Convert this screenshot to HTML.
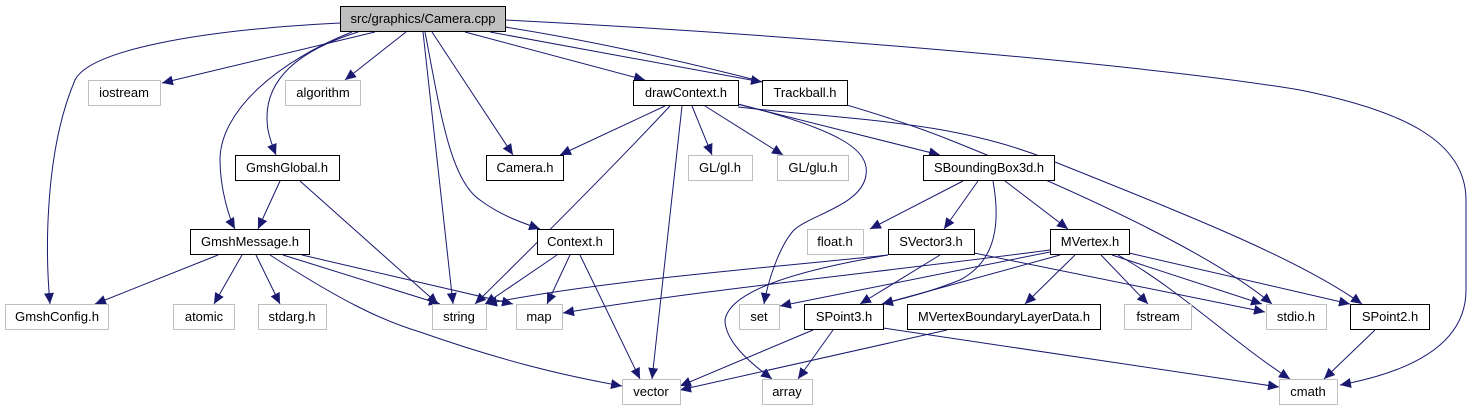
<!DOCTYPE html>
<html><head><meta charset="utf-8"><style>html,body{margin:0;padding:0;background:#fff}svg{display:block}</style></head>
<body>
<svg width="1473" height="411" viewBox="0 0 1473 411" xmlns="http://www.w3.org/2000/svg" font-family="Liberation Sans, sans-serif" font-size="13">
<defs>
<marker id="a" markerUnits="userSpaceOnUse" markerWidth="12" markerHeight="10" refX="11" refY="5" orient="auto"><path d="M0,0 L11,5 L0,10 Z" fill="#191970"/></marker>
</defs>
<g fill="none" stroke="#191970" stroke-width="1" marker-end="url(#a)">
<path d="M340,23 C200,30 90,50 75,80 C45,150 45,250 50,304"/>
<path d="M375,32 L162,83"/>
<path d="M406,32 L345,80"/>
<path d="M358,32 C300,50 260,80 268,130 C270,140 274,150 276,155"/>
<path d="M352,32 C280,60 220,110 220,160 C220,190 230,220 235,229"/>
<path d="M423,32 L453,304"/>
<path d="M432,32 L513,155"/>
<path d="M425,32 C440,110 450,180 480,200 C500,215 520,222 540,229"/>
<path d="M465,32 L645,80"/>
<path d="M490,32 L762,82"/>
<path d="M505,27 C650,50 850,100 950,140 C1100,200 1220,260 1272,304"/>
<path d="M506,20 C800,35 1150,65 1300,90 C1400,110 1466,140 1466,200 L1466,290 C1466,340 1420,370 1340,385"/>
<path d="M665,106 L560,155"/>
<path d="M670,106 C610,170 540,240 475,304"/>
<path d="M682,106 L652,379"/>
<path d="M692,106 L712,155"/>
<path d="M705,106 L783,155"/>
<path d="M737,104 L940,155"/>
<path d="M738,104 C840,130 870,150 866,175 C862,205 810,215 794,230 C780,245 768,280 764,304"/>
<path d="M738,107 C850,120 950,120 1050,160 C1200,220 1300,260 1362,304"/>
<path d="M963,181 L870,229"/>
<path d="M978,181 L944,229"/>
<path d="M1005,181 L1068,229"/>
<path d="M993,181 C1000,220 998,260 960,280 C930,292 905,298 882,304"/>
<path d="M280,181 L258,229"/>
<path d="M300,181 L438,304"/>
<path d="M218,255 L95,304"/>
<path d="M242,255 L214,304"/>
<path d="M256,255 L280,304"/>
<path d="M283,255 L440,304"/>
<path d="M302,255 L513,304"/>
<path d="M270,255 C340,300 380,320 420,332 C500,360 560,375 622,386"/>
<path d="M557,255 L485,304"/>
<path d="M570,255 L547,304"/>
<path d="M580,255 L640,379"/>
<path d="M888,255 C800,265 600,280 486,304"/>
<path d="M888,255 C800,270 730,290 725,320 C725,345 760,370 772,379"/>
<path d="M940,255 L860,304"/>
<path d="M974,253 L1265,312"/>
<path d="M1050,250 C900,270 700,290 563,313"/>
<path d="M1050,252 L780,306"/>
<path d="M1060,255 L882,304"/>
<path d="M1075,255 L1025,304"/>
<path d="M1101,255 L1148,304"/>
<path d="M1112,255 L1262,304"/>
<path d="M1118,255 C1180,290 1230,340 1290,379"/>
<path d="M1129,253 L1350,304"/>
<path d="M813,330 L680,386"/>
<path d="M833,330 L798,379"/>
<path d="M883,328 L1279,387"/>
<path d="M947,330 L680,390"/>
<path d="M1375,330 L1324,379"/>
</g>
<g stroke-width="1">
<rect x="340.5" y="6.5" width="165" height="25" fill="#bfbfbf" stroke="#000"/>
<g fill="#fff" stroke="#bfbfbf">
<rect x="88.5" y="80.5" width="72" height="25"/>
<rect x="285.5" y="80.5" width="75" height="25"/>
<rect x="688.5" y="155.5" width="64" height="25"/>
<rect x="777.5" y="155.5" width="71" height="25"/>
<rect x="807.5" y="229.5" width="56" height="25"/>
<rect x="5.5" y="304.5" width="103" height="25"/>
<rect x="173.5" y="304.5" width="61" height="25"/>
<rect x="258.5" y="304.5" width="68" height="25"/>
<rect x="432.5" y="304.5" width="54" height="25"/>
<rect x="516.5" y="304.5" width="46" height="25"/>
<rect x="739.5" y="304.5" width="40" height="25"/>
<rect x="1124.5" y="304.5" width="67" height="25"/>
<rect x="1266.5" y="304.5" width="60" height="25"/>
<rect x="622.5" y="379.5" width="58" height="25"/>
<rect x="762.5" y="379.5" width="50" height="25"/>
<rect x="1279.5" y="379.5" width="58" height="25"/>
</g>
<g fill="#fff" stroke="#000">
<rect x="633.5" y="80.5" width="105" height="25"/>
<rect x="762.5" y="80.5" width="85" height="25"/>
<rect x="235.5" y="155.5" width="104" height="25"/>
<rect x="486.5" y="155.5" width="77" height="25"/>
<rect x="923.5" y="155.5" width="131" height="25"/>
<rect x="190.5" y="229.5" width="119" height="25"/>
<rect x="537.5" y="229.5" width="76" height="25"/>
<rect x="888.5" y="229.5" width="86" height="25"/>
<rect x="1050.5" y="229.5" width="79" height="25"/>
<rect x="804.5" y="304.5" width="79" height="25"/>
<rect x="907.5" y="304.5" width="193" height="25"/>
<rect x="1350.5" y="304.5" width="79" height="25"/>
</g>
</g>
<g fill="#000" text-anchor="middle">
<text x="423" y="23" textLength="145" lengthAdjust="spacingAndGlyphs">src/graphics/Camera.cpp</text>
<text x="124" y="97">iostream</text>
<text x="323" y="97">algorithm</text>
<text x="686" y="97" textLength="82" lengthAdjust="spacingAndGlyphs">drawContext.h</text>
<text x="805" y="97">Trackball.h</text>
<text x="287" y="172" textLength="82" lengthAdjust="spacingAndGlyphs">GmshGlobal.h</text>
<text x="525" y="172">Camera.h</text>
<text x="720" y="172">GL/gl.h</text>
<text x="813" y="172">GL/glu.h</text>
<text x="989" y="172" textLength="110" lengthAdjust="spacingAndGlyphs">SBoundingBox3d.h</text>
<text x="835" y="246">float.h</text>
<text x="250" y="246" textLength="98" lengthAdjust="spacingAndGlyphs">GmshMessage.h</text>
<text x="575" y="246">Context.h</text>
<text x="931" y="246">SVector3.h</text>
<text x="1090" y="246">MVertex.h</text>
<text x="57" y="321" textLength="84" lengthAdjust="spacingAndGlyphs">GmshConfig.h</text>
<text x="204" y="321">atomic</text>
<text x="292" y="321">stdarg.h</text>
<text x="459" y="321">string</text>
<text x="539" y="321">map</text>
<text x="759" y="321">set</text>
<text x="844" y="321">SPoint3.h</text>
<text x="1004" y="321" textLength="172" lengthAdjust="spacingAndGlyphs">MVertexBoundaryLayerData.h</text>
<text x="1158" y="321">fstream</text>
<text x="1296" y="321">stdio.h</text>
<text x="1390" y="321">SPoint2.h</text>
<text x="651" y="396">vector</text>
<text x="787" y="396">array</text>
<text x="1308" y="396">cmath</text>
</g>
</svg>
</body></html>
